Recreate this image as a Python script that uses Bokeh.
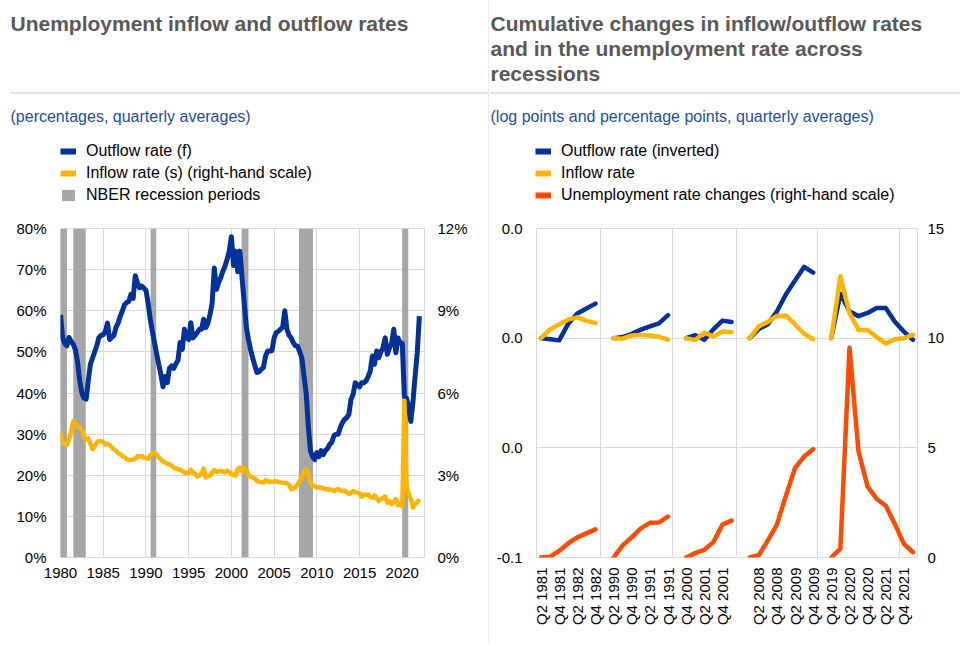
import math
import numpy as np
from bokeh.plotting import figure
from bokeh.core.properties import value
from bokeh.models import (Range1d, LinearAxis, FixedTicker, PrintfTickFormatter,
                          Legend, LegendItem)
from bokeh.layouts import row, column
from bokeh.embed import file_html
from bokeh.resources import INLINE

# ---------------- data: left panel (quarterly, 1980Q1 - 2022Q1) ----------------
first_year = 1980
outflow_rate = [  # percent, left-hand scale
    59, 53.5, 52, 51.5,        # 1980
    53.5, 52.5, 51.8, 50.5,    # 1981
    47.5, 43, 40, 38.8,        # 1982
    38.5, 43, 47, 48.5,        # 1983
    50, 51.5, 53.5, 54,        # 1984
    54.2, 55, 57, 53,          # 1985
    53.5, 54, 56, 57,          # 1986
    58.7, 60, 61.5, 62,        # 1987
    62.3, 64, 63, 68.5,        # 1988
    66.8, 65.6, 66, 65.5,      # 1989
    65, 62, 58, 55,            # 1990
    52.3, 49.5, 47, 44.5,      # 1991
    41.5, 44, 42.5, 46,        # 1992
    46.6, 46, 47, 48,          # 1993
    52.3, 50.6, 55.5, 53.5,    # 1994
    53, 57.1, 53.4, 54,        # 1995
    54.7, 55.5, 55.5, 57.9,    # 1996
    55.9, 57, 59.1, 61.9,      # 1997
    70.4, 65.2, 66.8, 68,      # 1998
    69.6, 70.8, 72.5, 74.5,    # 1999
    78, 71, 74.5, 69.5,        # 2000
    74.5, 68, 62, 56,          # 2001
    53, 50.5, 48.5, 46.6,      # 2002
    45, 45.2, 45.8, 46.2,      # 2003
    49, 50.2, 50.2, 50.3,      # 2004
    53.4, 54.7, 55, 55.5,      # 2005
    56, 60, 55.5, 54,          # 2006
    53.4, 52.2, 51.5, 51.4,    # 2007
    50, 48.5, 44, 40,          # 2008
    32, 26, 24.5, 23.8,        # 2009
    25.5, 24.5, 26, 25,        # 2010
    26, 26.5, 27.5, 28,        # 2011
    29.6, 30, 30, 31.6,        # 2012
    32.8, 33.6, 34, 34.8,      # 2013
    38.5, 39.7, 42.5, 42,      # 2014
    41.5, 42.5, 42.5, 42.9,    # 2015
    44, 45.3, 49, 47,          # 2016
    50.2, 48.6, 50, 51,        # 2017
    53.4, 49.4, 51, 52,        # 2018
    55.5, 49.8, 53.4, 52.2,    # 2019
    52, 39.1, 38.7, 36.3,      # 2020
    33.1, 37.9, 44, 49.8,      # 2021
    58.7,                      # 2022
]
inflow_rate = [  # percent, right-hand scale
    4.6, 4.2, 4.15, 4.1,       # 1980
    4.3, 4.6, 4.98, 4.85,      # 1981
    4.8, 4.74, 4.65, 4.4,      # 1982
    4.31, 4.35, 4.15, 3.95,    # 1983
    4.05, 4.19, 4.25, 4.25,    # 1984
    4.2, 4.13, 4.15, 4.1,      # 1985
    4.01, 3.95, 3.89, 3.8,     # 1986
    3.77, 3.7, 3.65, 3.58,     # 1987
    3.56, 3.56, 3.57, 3.6,     # 1988
    3.7, 3.68, 3.7, 3.64,      # 1989
    3.64, 3.6, 3.72, 3.8,      # 1990
    3.83, 3.75, 3.65, 3.58,    # 1991
    3.5, 3.46, 3.42, 3.4,      # 1992
    3.35, 3.28, 3.25, 3.22,    # 1993
    3.2, 3.15, 3.1, 3.08,      # 1994
    3.07, 3.2, 3.1, 3.05,      # 1995
    2.95, 3.0, 3.05, 3.24,     # 1996
    2.92, 2.96, 2.98, 3.1,     # 1997
    3.19, 3.12, 3.14, 3.16,    # 1998
    3.14, 3.1, 3.16, 3.12,     # 1999
    3.04, 3.02, 2.98, 3.22,    # 2000
    3.28, 3.15, 3.28, 3.2,     # 2001
    3.0, 2.95, 2.92, 2.88,     # 2002
    2.79, 2.77, 2.75, 2.73,    # 2003
    2.82, 2.78, 2.76, 2.76,    # 2004
    2.77, 2.78, 2.76, 2.74,    # 2005
    2.73, 2.72, 2.71, 2.65,    # 2006
    2.49, 2.52, 2.55, 2.67,    # 2007
    2.8, 2.92, 3.1, 3.22,      # 2008
    3.04, 2.73, 2.62, 2.59,    # 2009
    2.55, 2.56, 2.55, 2.52,    # 2010
    2.49, 2.5, 2.48, 2.47,     # 2011
    2.43, 2.46, 2.5, 2.44,     # 2012
    2.42, 2.44, 2.38, 2.31,    # 2013
    2.36, 2.42, 2.38, 2.37,    # 2014
    2.33, 2.22, 2.3, 2.28,     # 2015
    2.3, 2.2, 2.18, 2.27,      # 2016
    2.15, 2.06, 2.12, 2.18,    # 2017
    2.22, 2.0, 2.05, 1.95,     # 2018
    2.02, 2.13, 1.91, 1.92,    # 2019
    1.88, 5.72, 2.61, 2.31,    # 2020
    2.13, 1.82, 1.95, 2.02,    # 2021
    2.13,                      # 2022
]
recession_start = [1980.0, 1981.5, 1990.55, 2001.2, 2007.9, 2020.0]
recession_end = [1980.75, 1982.95, 1991.2, 2002.0, 2009.55, 2020.7]
year_ticks = [1980, 1985, 1990, 1995, 2000, 2005, 2010, 2015, 2020]
left_pct_ticks = [0, 10, 20, 30, 40, 50, 60, 70, 80]
right_pct_ticks = [0, 3, 6, 9, 12]

# ---------------- data: right panel (cumulative changes across recessions) ----------------
categories = [
    "Q2 1981", "Q3 1981", "Q4 1981", "Q1 1982", "Q2 1982", "Q3 1982", "Q4 1982", "",
    "Q2 1990", "Q3 1990", "Q4 1990", "Q1 1991", "Q2 1991", "Q3 1991", "Q4 1991", "",
    "Q4 2000", "Q1 2001", "Q2 2001", "Q3 2001", "Q4 2001", "Q1 2002", "",
    "Q1 2008", "Q2 2008", "Q3 2008", "Q4 2008", "Q1 2009", "Q2 2009", "Q3 2009", "Q4 2009", "",
    "Q4 2019", "Q1 2020", "Q2 2020", "Q3 2020", "Q4 2020", "Q1 2021", "Q2 2021", "Q3 2021",
    "Q4 2021", "Q1 2022",
]
outflow_inverted = [
    0, -0.0004, -0.0008, 0.0053, 0.009, 0.0108, 0.0126, None,
    0, 0.0004, 0.0016, 0.0031, 0.0043, 0.0054, 0.0084, None,
    0, 0.0011, -0.0006, 0.0032, 0.0064, 0.0059, None,
    0, 0.0033, 0.0051, 0.0097, 0.016, 0.021, 0.026, 0.0239, None,
    0, 0.0162, 0.0098, 0.008, 0.0092, 0.011, 0.011, 0.006, 0.0024, -0.0006,
]
inflow_change = [
    0, 0.0032, 0.005, 0.0068, 0.0076, 0.0063, 0.0055, None,
    0, -0.0002, 0.001, 0.0012, 0.001, 0.0005, -0.0005, None,
    0, -0.0007, 0.002, 0.0006, 0.0024, 0.0022, None,
    0, 0.0043, 0.0059, 0.0081, 0.0082, 0.005, 0.0016, -0.0004, None,
    0, 0.0226, 0.0092, 0.003, 0.003, 0.0004, -0.002, -0.0004, 0, 0.0012,
]
unemployment_change = [
    0, 0.03, 0.3, 0.65, 0.92, 1.1, 1.28, None,
    0, 0.55, 0.92, 1.33, 1.58, 1.6, 1.86, None,
    0, 0.2, 0.35, 0.7, 1.5, 1.68, None,
    0, 0.1, 0.77, 1.5, 2.82, 4.08, 4.6, 4.94, None,
    0, 0.4, 9.56, 4.83, 3.23, 2.67, 2.36, 1.53, 0.62, 0.24,
]
left_ticks_r = [-0.08, -0.04, 0.0, 0.04]
left_tick_labels_r = ["-0.1", "0.0", "0.0", "0.0"]
right_ticks_r = [0, 5, 10, 15]

# ---------------- texts ----------------
left_title = ["Unemployment inflow and outflow rates"]
left_subtitle = "(percentages, quarterly averages)"
left_legend = ["Outflow rate (f)", "Inflow rate (s) (right-hand scale)", "NBER recession periods"]
right_title = ["Cumulative changes in inflow/outflow rates",
               "and in the unemployment rate across",
               "recessions"]
right_subtitle = "(log points and percentage points, quarterly averages)"
right_legend = ["Outflow rate (inverted)", "Inflow rate",
                "Unemployment rate changes (right-hand scale)"]

# ---------------- styling ----------------
FONT = "Liberation Sans"
BLUE = "#003299"
YELLOW = "#FFB400"
ORANGE = "#FF4B00"
BAND = "#A6A6A6"
GRID = "#D9D9D9"
TITLE_C = "#595959"
SUB_C = "#1F4E9C"
TXT = "#000000"

HEAD_H = 215          # header height (titles, subtitle, legend)
CHART_H = 429         # chart figure height
TOP_B, BOT_B = 13, 87  # borders around the 329 px frame
LW, RW = 488, 471     # left / right column widths
TITLE_Y0, TITLE_DY, SUB_Y = 23, 25, 116


def no_align(fig):
    if "frame_align" in fig.properties():
        fig.frame_align = False


def style_axis(ax, standoff):
    ax.axis_line_color = None
    ax.major_tick_line_color = None
    ax.minor_tick_line_color = None
    ax.major_tick_out = 0
    ax.major_tick_in = 0
    ax.major_label_text_font = FONT
    ax.major_label_text_font_size = "15px"
    ax.major_label_text_color = TXT
    ax.major_label_standoff = standoff


def header(width, title_lines, title_x, subtitle, legend_x, legend_specs, sep_x0):
    h = figure(width=width, height=HEAD_H, x_range=Range1d(0, width),
               y_range=Range1d(HEAD_H, 0), output_backend="svg", toolbar_location=None,
               x_axis_location=None, y_axis_location=None, min_border=0,
               min_border_left=0, min_border_right=0, min_border_top=0, min_border_bottom=0)
    no_align(h)
    h.outline_line_color = None
    h.xgrid.visible = False
    h.ygrid.visible = False
    h.background_fill_color = "white"
    h.border_fill_color = "white"
    h.text(x=[title_x] * len(title_lines),
           y=[TITLE_Y0 + TITLE_DY * k for k in range(len(title_lines))],
           text=title_lines, text_font=value(FONT), text_font_size="21px",
           text_font_style="bold", text_color=TITLE_C, text_baseline="alphabetic",
           text_align="left")
    h.text(x=[title_x], y=[SUB_Y], text=[subtitle], text_font=value(FONT),
           text_font_size="16px", text_color=SUB_C, text_baseline="alphabetic",
           text_align="left")
    h.segment(x0=[sep_x0], y0=[92.5], x1=[width], y1=[92.5], line_color=GRID, line_width=1.5)
    items = []
    for lab, kind, col in legend_specs:
        if kind == "line":
            r = h.line(x=[np.nan], y=[np.nan], line_color=col, line_width=6)
        else:
            r = h.quad(left=[np.nan], right=[np.nan], top=[np.nan], bottom=[np.nan],
                       fill_color=col, line_color=None)
        items.append(LegendItem(label=lab, renderers=[r]))
    leg = Legend(items=items, location=(legend_x, HEAD_H - 206), orientation="vertical",
                 glyph_width=16, glyph_height=14, label_height=22, spacing=0, padding=0,
                 margin=0, label_standoff=10, label_text_font=FONT,
                 label_text_font_size="16px", label_text_color=TXT,
                 border_line_color=None, background_fill_alpha=0)
    h.add_layout(leg)
    return h


# ================= left panel =================
h1 = header(LW, left_title, 10, left_subtitle, 60,
            [(left_legend[0], "line", BLUE), (left_legend[1], "line", YELLOW),
             (left_legend[2], "box", BAND)], 10)

p1 = figure(width=LW, height=CHART_H, x_range=Range1d(1980, 2022.6), y_range=Range1d(0, 80),
            output_backend="svg", toolbar_location=None,
            min_border_left=60, min_border_right=64, min_border_top=TOP_B, min_border_bottom=BOT_B)
no_align(p1)
p1.extra_y_ranges = {"inflow": Range1d(0, 12)}
p1.outline_line_color = GRID
p1.background_fill_color = "white"
p1.border_fill_color = "white"

xq = [first_year + i / 4 for i in range(len(outflow_rate))]
p1.quad(left=recession_start, right=recession_end, bottom=0, top=80,
        fill_color=BAND, line_color=None)
p1.line(xq, outflow_rate, line_color=BLUE, line_width=5, line_join="round")
p1.line(xq, inflow_rate, line_color=YELLOW, line_width=4.5, line_join="round",
        y_range_name="inflow")

p1.xaxis.ticker = FixedTicker(ticks=year_ticks)
p1.yaxis.ticker = FixedTicker(ticks=left_pct_ticks)
p1.yaxis.formatter = PrintfTickFormatter(format="%d%%")
ax_r = LinearAxis(y_range_name="inflow", ticker=FixedTicker(ticks=right_pct_ticks),
                  formatter=PrintfTickFormatter(format="%d%%"))
p1.add_layout(ax_r, "right")
for ax in p1.xaxis:
    style_axis(ax, 10)
for ax in p1.yaxis:
    style_axis(ax, 14)
style_axis(ax_r, 13)
p1.xgrid.ticker = FixedTicker(ticks=year_ticks)
p1.xgrid.grid_line_color = GRID
p1.ygrid.grid_line_color = GRID

# ================= divider =================
d = figure(width=1, height=HEAD_H + CHART_H, output_backend="svg", toolbar_location=None,
           x_axis_location=None, y_axis_location=None, min_border=0,
           min_border_left=0, min_border_right=0, min_border_top=0, min_border_bottom=0)
no_align(d)
d.outline_line_color = None
d.xgrid.visible = False
d.ygrid.visible = False
d.background_fill_color = GRID
d.border_fill_color = GRID

# ================= right panel =================
h2 = header(RW, right_title, 1, right_subtitle, 46,
            [(right_legend[0], "line", BLUE), (right_legend[1], "line", YELLOW),
             (right_legend[2], "line", ORANGE)], 0)

p2 = figure(width=RW, height=CHART_H, x_range=Range1d(-0.5, len(categories) - 0.5),
            y_range=Range1d(left_ticks_r[0], left_ticks_r[-1]),
            output_backend="svg", toolbar_location=None,
            min_border_left=47, min_border_right=43, min_border_top=TOP_B, min_border_bottom=BOT_B)
no_align(p2)
p2.extra_y_ranges = {"ur": Range1d(right_ticks_r[0], right_ticks_r[-1])}
p2.outline_line_color = GRID
p2.background_fill_color = "white"
p2.border_fill_color = "white"

xc = list(range(len(categories)))
p2.line(xc, np.array(outflow_inverted, dtype=float), line_color=BLUE, line_width=4.5,
        line_join="round", line_cap="round")
p2.line(xc, np.array(inflow_change, dtype=float), line_color=YELLOW, line_width=4.5,
        line_join="round", line_cap="round")
p2.line(xc, np.array(unemployment_change, dtype=float), line_color=ORANGE, line_width=4.5,
        line_join="round", line_cap="round", y_range_name="ur")

tick_idx = [i for i in range(0, len(categories), 2) if categories[i]]
p2.xaxis.ticker = FixedTicker(ticks=tick_idx)
p2.xaxis.major_label_overrides = {i: categories[i] for i in tick_idx}
p2.xaxis.major_label_orientation = math.pi / 2
p2.yaxis.ticker = FixedTicker(ticks=left_ticks_r)
p2.yaxis.major_label_overrides = dict(zip(left_ticks_r, left_tick_labels_r))
ax2_r = LinearAxis(y_range_name="ur", ticker=FixedTicker(ticks=right_ticks_r))
p2.add_layout(ax2_r, "right")
for ax in p2.xaxis:
    style_axis(ax, 10)
for ax in p2.yaxis:
    style_axis(ax, 14)
style_axis(ax2_r, 10)
group_edges = [i + 0.5 for i in range(len(categories) - 1) if categories[i + 1] == ""] + [39.5]
p2.xgrid.ticker = FixedTicker(ticks=group_edges)
p2.xgrid.grid_line_color = GRID
p2.ygrid.ticker = FixedTicker(ticks=left_ticks_r)
p2.ygrid.grid_line_color = GRID

layout = row(column(h1, p1), d, column(h2, p2))
open("out.html", "w").write(file_html(layout, INLINE))
